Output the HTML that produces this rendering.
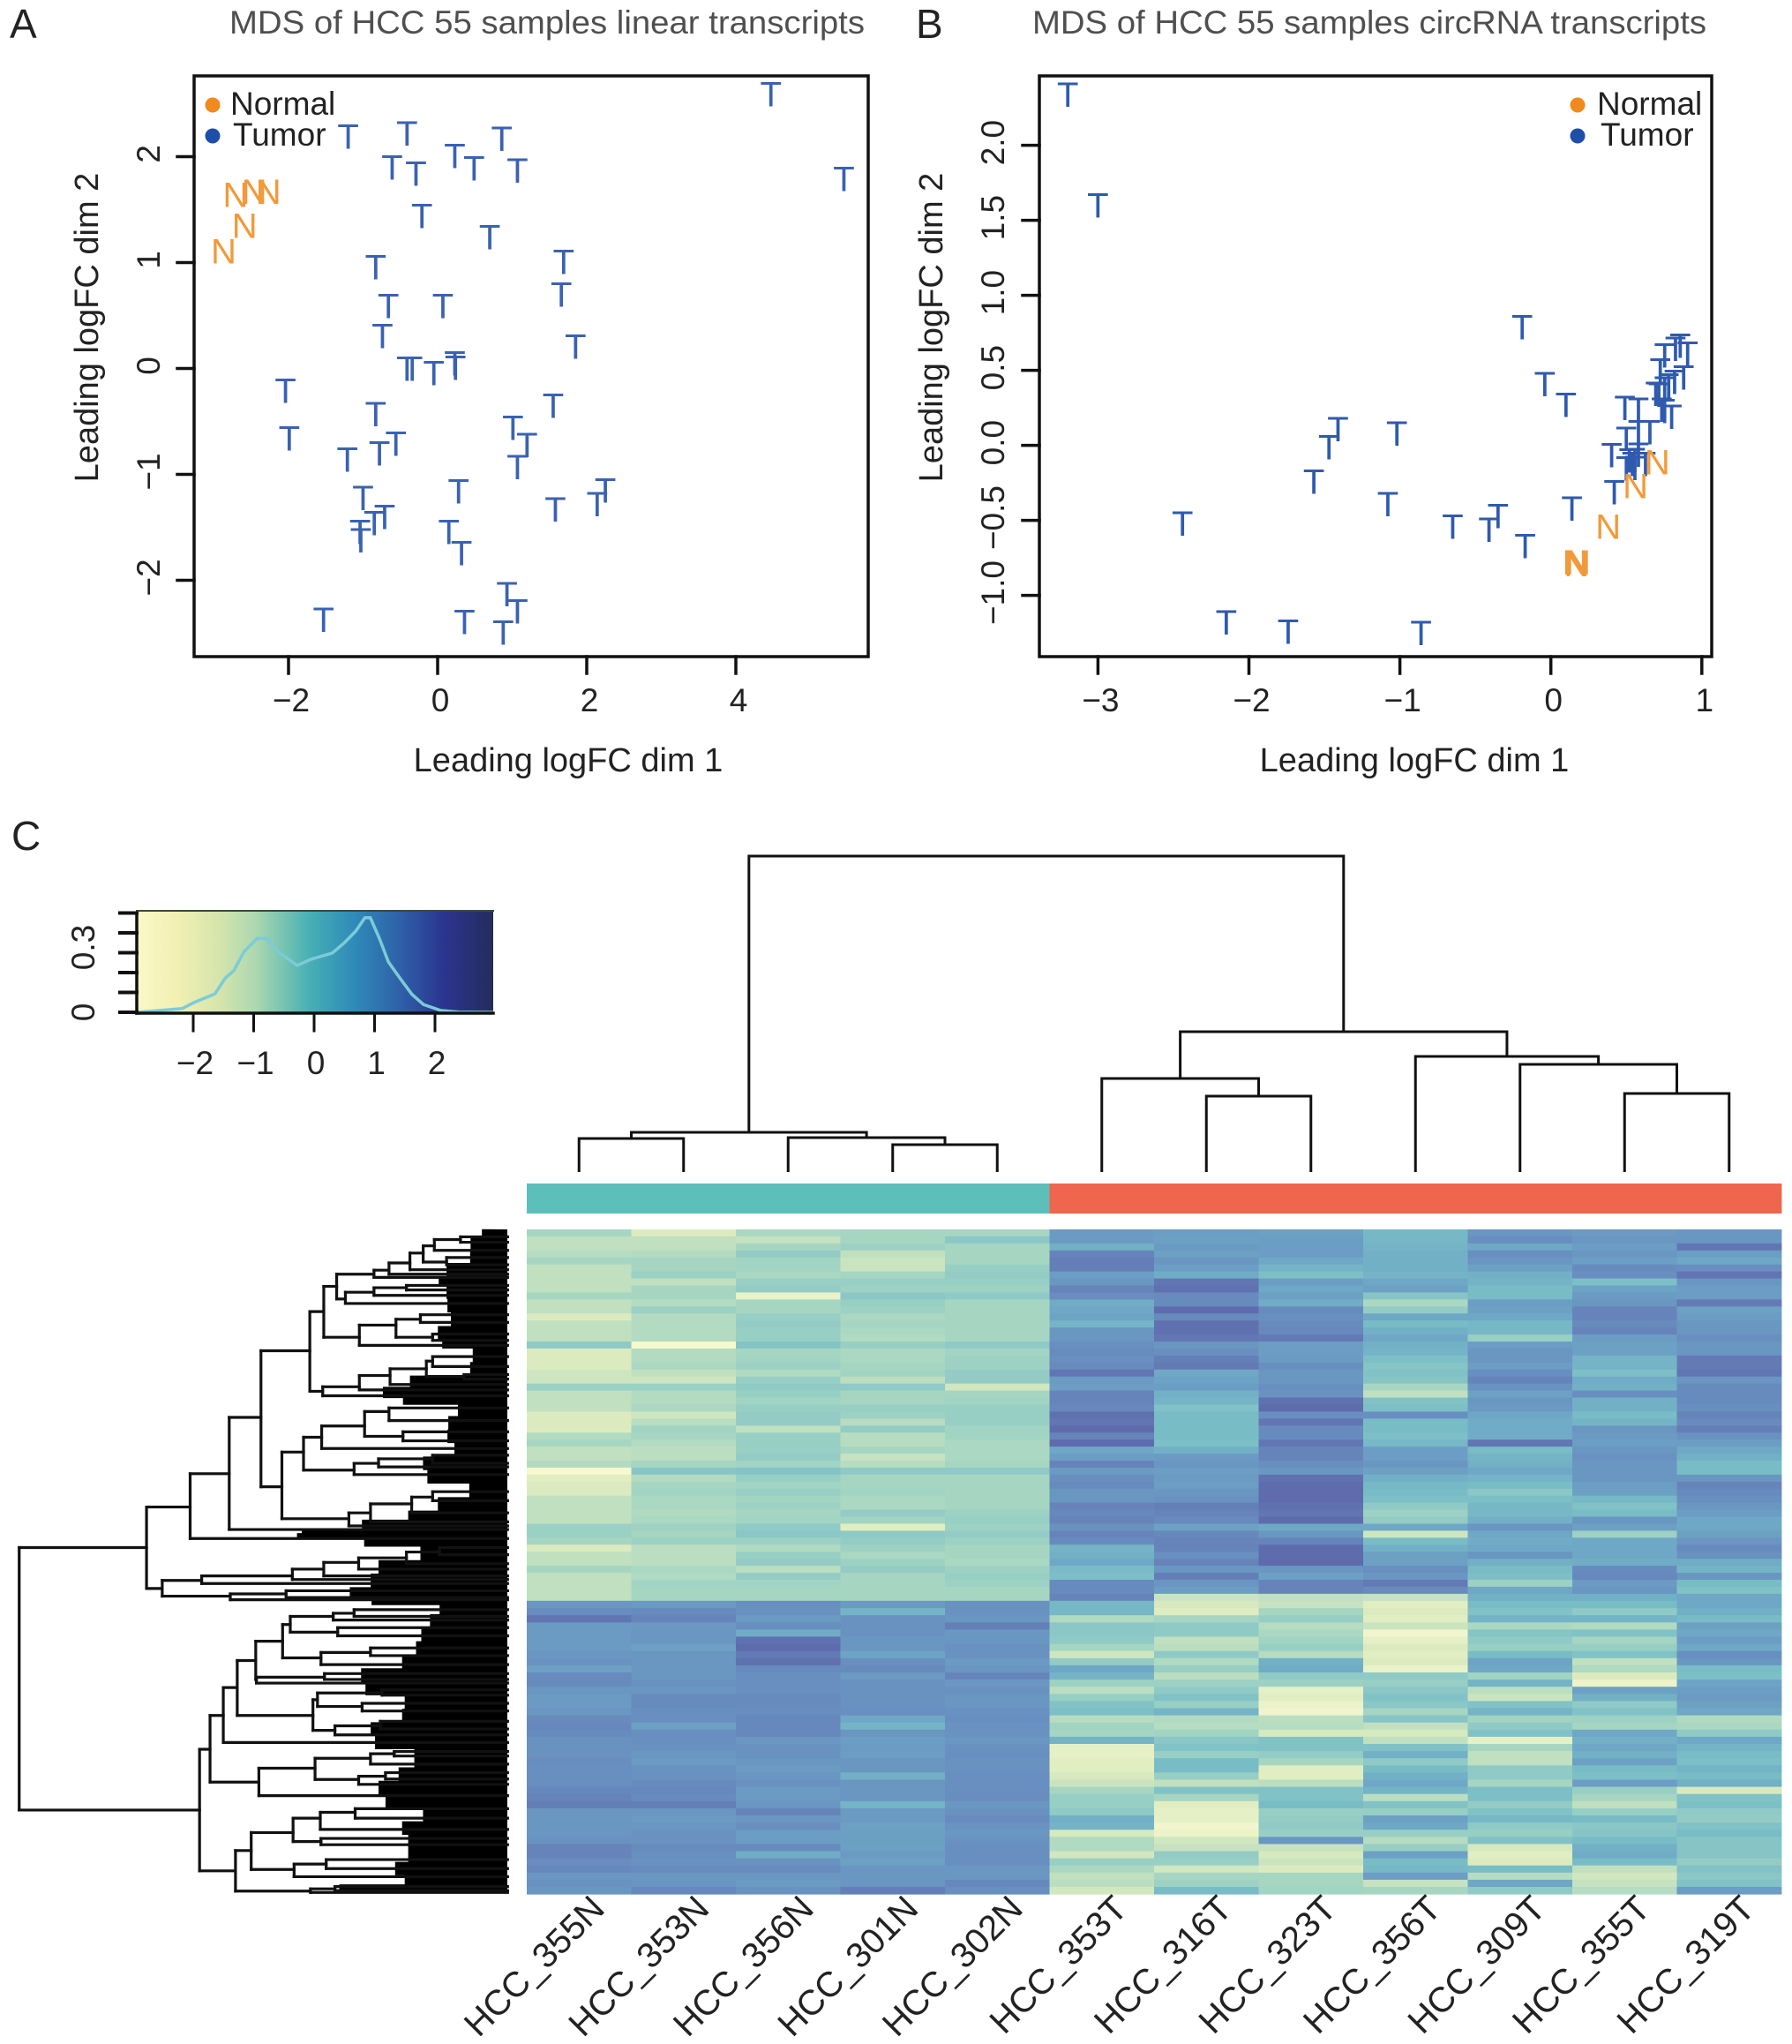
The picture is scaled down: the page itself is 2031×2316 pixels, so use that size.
<!DOCTYPE html>
<html lang="en">
<head>
<meta charset="utf-8">
<title>MDS plots and heatmap of HCC samples</title>
<style>
html,body{margin:0;padding:0;background:#fff;}
svg{display:block;font-family:"Liberation Sans",Arial,sans-serif;}
text{fill:#222;}
</style>
</head>
<body>
<svg id="fig" xmlns="http://www.w3.org/2000/svg" width="2031" height="2316" viewBox="0 0 2031 2316">
<defs>
<linearGradient id="keyGrad" x1="0" x2="1" y1="0" y2="0">
<stop offset="0" stop-color="#fbf8c8"/><stop offset=".12" stop-color="#f1efb2"/><stop offset=".24" stop-color="#d2e4ac"/><stop offset=".33" stop-color="#aed8b0"/><stop offset=".41" stop-color="#78c4b2"/><stop offset=".49" stop-color="#45aeb5"/><stop offset=".61" stop-color="#2f8ab8"/><stop offset=".74" stop-color="#2f60a8"/><stop offset=".86" stop-color="#2a3590"/><stop offset="1" stop-color="#252c5c"/>
</linearGradient>
</defs>
<rect width="2031" height="2316" fill="#fff"/>
<text x="11" y="43" font-size="46">A</text>
<text x="1038" y="43" font-size="46">B</text>
<text x="13" y="963" font-size="46">C</text>
<text x="260" y="38" font-size="37" textLength="720" lengthAdjust="spacingAndGlyphs" style="fill:#4f4f4f">MDS of HCC 55 samples linear transcripts</text>
<text x="1170" y="38" font-size="37" textLength="764" lengthAdjust="spacingAndGlyphs" style="fill:#4f4f4f">MDS of HCC 55 samples circRNA transcripts</text>
<text x="644" y="874" font-size="38" text-anchor="middle">Leading logFC dim 1</text>
<text x="1603" y="874" font-size="38" text-anchor="middle">Leading logFC dim 1</text>
<text transform="translate(111,371) rotate(-90)" font-size="38" text-anchor="middle">Leading logFC dim 2</text>
<text transform="translate(1068,371) rotate(-90)" font-size="38" text-anchor="middle">Leading logFC dim 2</text>
<circle cx="241" cy="119" r="8.5" fill="#f08a1c"/>
<text x="261" y="130" font-size="37">Normal</text>
<circle cx="241" cy="154" r="8.5" fill="#1d4fa8"/>
<text x="264" y="165" font-size="37">Tumor</text>
<circle cx="1788" cy="119" r="8.5" fill="#f08a1c"/>
<text x="1810" y="130" font-size="37">Normal</text>
<circle cx="1788" cy="154" r="8.5" fill="#1d4fa8"/>
<text x="1814" y="165" font-size="37">Tumor</text>
<g id="marks"></g>
</svg>
<script>
/* Panel A values */
const aTumorX=[4.47,5.45,-1.20,-0.41,0.86,0.23,0.49,1.07,-0.61,-0.29,-0.21,0.70,1.69,1.66,-0.83,-0.66,0.07,-0.74,1.85,-0.41,-0.34,-0.05,0.23,0.24,-2.04,-1.99,1.55,-0.83,1.01,1.20,-0.56,-0.78,-1.21,1.07,-1.00,0.28,2.25,2.14,1.58,-0.71,-0.85,-1.04,-1.03,0.15,0.32,0.93,1.07,-1.53,0.36,0.88];
const aTumorY=[2.59,1.79,2.19,2.22,2.17,2.01,1.89,1.87,1.90,1.84,1.44,1.24,1.01,0.70,0.96,0.59,0.59,0.31,0.21,0,0,-0.04,0.05,0.01,-0.21,-0.66,-0.35,-0.43,-0.56,-0.72,-0.71,-0.80,-0.86,-0.93,-1.22,-1.16,-1.15,-1.28,-1.33,-1.40,-1.46,-1.54,-1.62,-1.54,-1.74,-2.13,-2.29,-2.37,-2.39,-2.49];
const aNormalX=[-2.71,-2.46,-2.27,-2.59,-2.87];
const aNormalY=[1.64,1.67,1.67,1.35,1.11];
const aTicksX=[-2,0,2,4];
const aTicksY=[-2,-1,0,1,2];
/* Panel B values */
const bTumorX=[-3.20,-3.00,-0.19,-0.04,0.10,-1.41,-1.02,-1.47,-1.57,-1.08,-2.44,-0.65,-0.35,-0.41,-0.17,0.14,-2.15,-1.74,-0.86,0.42,0.857,0.826,0.906,0.754,0.725,0.88,0.82,0.754,0.78,0.695,0.734,0.715,0.80,0.754,0.49,0.58,0.656,0.58,0.50,0.58,0.403,0.52,0.557,0.54,0.557,0.50,0.627];
const bTumorY=[2.34,1.60,0.79,0.41,0.27,0.11,0.08,-0.01,-0.24,-0.39,-0.52,-0.54,-0.47,-0.56,-0.67,-0.42,-1.18,-1.24,-1.25,-0.31,0.664,0.644,0.611,0.60,0.50,0.455,0.425,0.38,0.40,0.346,0.24,0.34,0.193,0.23,0.25,0.24,0.09,0.09,0.045,-0.06,-0.065,-0.10,-0.095,-0.124,-0.15,-0.153,-0.124];
const bNormalX=[0.705,0.56,0.38,0.16,0.17,0.18];
const bNormalY=[-0.11,-0.27,-0.54,-0.78,-0.79,-0.78];
const bTicksX=[-3,-2,-1,0,1];
const bTicksY=[-1,-0.5,0,0.5,1,1.5,2];
/* Colour key values */
const keyTicksX=[-2,-1,0,1,2];
const keyTicksY=[0,0.1,0.2,0.3,0.4,0.5];
const keyLabelsY=[0,0.3];
const densityX=[-2.93,-2.57,-2.18,-1.99,-1.64,-1.47,-1.33,-1.16,-0.94,-0.79,-0.57,-0.28,-0.04,0.30,0.50,0.69,0.84,0.93,1.08,1.23,1.42,1.62,1.81,2.10,2.39,2.96];
const densityY=[0,.009,.019,.049,.093,.172,.209,.305,.372,.372,.298,.236,.268,.298,.35,.409,.476,.476,.372,.253,.172,.09,.039,.009,.001,0];
/* Heatmap values: 53 upper cluster rows then 41 lower cluster rows; 0 = lightest, 9 = darkest */
const sampleNames=["HCC_355N","HCC_353N","HCC_356N","HCC_301N","HCC_302N","HCC_353T","HCC_316T","HCC_323T","HCC_356T","HCC_309T","HCC_355T","HCC_319T"];
const heat355N=[3,2,2,2.4,3,2,2,2,2,3,2,2,1,2,2,2,4,1,1,1,1.5,1.5,3.5,2,2,2,1,1,1,2.5,3,2,2,2.5,0,0.8,1,1,2,2,2,2,3.5,3.5,3,1,2,2,3,2,2,2,2,7,7.5,8.6,6.8,6.7,6.7,6.7,7,7.2,6.4,7.6,7.6,7,6.8,6.8,7,7.6,7.8,7.6,7.2,7.3,7.2,7.5,7.4,7.4,7.4,7.8,8,8.2,7,7,7,7,7.2,8,8,7.5,7.8,7,7.2,7];
const heat353N=[1,2,2,2.5,3,3,3.5,2,3,3,2.5,3.5,2.5,2.5,2.5,2.5,0,2.5,2.5,2.8,2,1.5,3.5,2.5,2.5,2.8,1.5,2.2,3.2,3,2.5,2.2,2.2,3,4.3,2.5,3,3.2,2.8,2.8,2.6,2.8,3.3,3,3.4,2.2,2.2,2.2,2.8,2.6,3.2,3,3,6.8,7.6,8,6.9,7,7,6.4,7,7,7,7,7.2,7,7.6,7.6,7.4,7.4,6.4,7.4,7.4,7.2,7,6.8,7.2,7.2,7.6,7.8,7.6,8.2,7,6.8,7,7.2,7.2,7.6,7.4,7.2,7.6,7,7,7.8];
const heat356N=[2.8,1.8,3,3.8,3.2,3.2,2.8,3.6,3.8,0.5,3,3,3.6,3.8,3.6,3.6,4.5,3,3.2,3.4,2.6,3.6,4,3.6,3.2,3.6,3.8,3.8,2,3.6,3.6,3.6,3.8,3.2,4.5,3.6,3.2,3.6,3.2,3.4,3,3.2,4,4.2,3.4,2.6,3.6,3.8,2.2,3.8,3.2,3,3,7.4,7.2,6.8,7.4,5.8,8.8,9,8.4,8.8,7.6,7.4,7.4,7.4,7.6,7.6,7.5,7.8,7.8,7.8,7,7.2,7.2,7,6.8,7,7.2,6.8,6.8,7,8,7,7.4,6.6,6.6,7.6,5.8,7.2,7.6,7,6.8,7.2];
const heat301N=[3,3,3.4,2,1.6,1.6,3,3.6,3.4,4.2,3.6,3.4,2.8,3,2.8,2.6,3.6,2.8,2.8,3,3.2,2.2,4,3,3,3.6,3.4,2.4,3.8,2.4,2.4,3,1.8,2.4,4,3,3,3.2,2.8,2.8,3.8,3.2,0.8,4,3.8,3.4,2.8,3.4,3.8,3,3,3,3,6.8,5.4,7.2,7.2,7.2,7,7,6.2,7.4,7.6,6.8,7.2,7.2,7.2,7.2,7.4,6,5.4,7,6.6,6.8,6.6,7,7,5.6,7,7,7,5.4,6.8,6.8,6.4,6.5,6.5,6.4,6.8,6.4,7,7,7,8.2];
const heat302N=[3,4.2,3,3,3,3.6,3.8,3.6,3.4,4,3,3,3,3,3,3,4,3.2,3.4,3.4,3.8,3.8,1.4,3,3.2,3.6,3.6,3.6,3.2,3.2,2.8,2.8,2.8,3,4,3,3,3,3,3,3.4,3.6,3.4,3.8,3.4,3,3,2.8,3.4,3.6,3.4,3,3,7.2,7.2,7,8.2,7,7,7.2,7.2,6.8,7,8,6.9,7.2,7,7,7.2,7.4,7.2,7.2,7,7.2,7.4,7.2,7.2,7.4,7.4,7.4,7.5,7,7.2,7.6,7.2,7,7.2,7.4,7.4,7.4,7,7,7.8,7.4];
const heat353T=[6.8,6.8,5.6,8,8.2,8.2,6.6,7,8,7.5,5.8,6,6.2,5.4,7,7,7.4,7.6,7.4,7.6,8.6,6.8,6.6,8,8,7.8,8.8,8.6,9,8,9,6,6.6,8,6.8,7.4,7.6,7,7,8,7.8,8,7.2,8,7.6,5.4,5.6,6,5,4.8,7.6,7.6,8,5.2,5.2,2.6,4.2,4.2,4,3,1.5,3.8,6,5.4,3.4,2.2,3.6,4.6,4.8,2.4,3.2,3,5.4,0.6,0.6,0.8,0.8,1.2,1.6,3,3.6,3.6,4,5.6,5.4,1.2,2.6,2.6,1.4,3.6,2.8,2,2.2,1.4];
const heat316T=[6.6,6.4,6.8,6.4,7,6.6,5.8,8.6,8.8,7.6,7.6,9.2,7.6,8.8,8.8,8.6,7,7.4,8.2,8.4,6,6.2,6.6,5.6,5.4,4.6,5,5,5,5,4.8,5.6,6.8,7,6.6,6.8,6.6,7,7.2,8.2,8,7.6,6.4,7.8,8,8,7.4,8,7,8.2,7,6.6,1.6,1.2,0.9,3,4,4,2,2.2,4,2.6,3.6,2.2,3.4,4,4.6,3.6,5.4,2.6,2.4,3.2,4.2,4.6,3.6,5,5,3.6,2,4.6,3,0.8,0.6,0.6,0.2,0.4,1.4,1.8,3.8,3.6,1.4,3,3.4,5];
const heat323T=[6.4,6.6,6.6,6.6,6,5.4,4.8,6.6,6,6.4,5.8,7.6,7.4,7.6,7.8,8.4,6.6,6.6,6.8,7.4,7,7,7.4,7.2,8.8,9,7.4,8.6,7.6,7.6,8.6,8,8,7.4,7,8.8,9.2,9.2,9.4,8.8,8.6,9,6,7,8,9.2,9.2,9.2,7,6.4,8,8,2,1.8,3,3.6,2.4,2.8,3.2,3.6,2.4,5.6,5.8,4,3.4,0.6,0.8,0.4,0.2,2.2,2.4,1.2,4.6,4.6,3.8,3,0.8,0.8,2.2,4.6,4.6,5,3.6,3.8,4,3.6,7,1.8,1.2,1.6,1,3,3,3.2];
const heat356T=[5.2,5.2,5.4,5.6,5.6,5.6,5.4,6,6.4,4.4,2.8,3.8,6,5,5.6,6,5.6,5.4,4.8,4.4,4.6,4.4,3,2,4.6,4.8,7.4,5,5,4.8,5.2,6.6,6.6,7,6.4,5.6,5.2,5,4.8,4,3.4,3.8,6,1.5,5,5.6,6.4,6.4,7.4,7,8.4,7.6,1.8,.8,1,.8,1.6,.2,.6,1,.8,1,.5,4,3.6,4.2,4.6,4.2,3,4.4,2,1.2,2,4.6,5.6,4,5,5.6,6,5.4,2.2,4.6,3.6,6.4,6,3.6,2.4,3.6,6.4,5,5.2,6.6,1.8,3];
const heat309T=[7,7.4,6,7.4,7,6.4,5.6,5.4,5,5,6.6,6.4,6,5.2,5.2,3.6,6.6,7,7,6.6,7.4,8,7.2,6.4,7,6.8,6,5.8,5.8,5.8,8.6,5,5.4,5.6,6,5.4,5,4.2,4.8,5.2,5.2,5.6,7,6,5.8,6,7,5.6,5,4.8,3.4,6,5.6,5,4.6,5.4,2.8,4.4,4,3.6,5,6.2,6,3.2,5.4,2.2,1.6,4.6,5.4,3.2,4,4.6,.6,3,2,2,4,4,3,4.8,4.8,3.8,4.6,5.2,4,3.6,4.6,1.2,.8,1,5,2.4,6,4];
const heat355T=[6.8,7,6.6,7,6.6,7.6,7.4,4.8,6.2,6.8,7,8,8,7.6,8,6.6,6.4,6.4,5.4,5.4,4.8,5.8,5.6,7.4,5.6,5.6,5,5.4,7,6.8,6.6,7,7.2,7,7,7,6.6,6.4,5.2,4.6,5,7,6.4,3.4,6,6,6,5.8,7.6,7.8,6.8,7,5.6,5,4,5.4,2.6,4.6,3,3.6,4.6,2,2.6,1,.4,6.4,5.6,4,4.6,3.4,3,6,5.6,6,5.6,6.4,5,4.8,6.6,3.6,3,2,3.6,5,4.2,4.4,5,5.6,5.8,5,2,1.4,1.8,2.4];
const heat319T=[7,7,8.6,6.6,6,7.4,8.6,7,6.6,6.6,8.4,6.4,6.6,7,7,7.4,7,7,8.4,8.4,8.6,7,7.6,7.6,7.6,7.4,8,7.6,8.2,7.2,6.6,6,5.6,5,5,7,8,7.6,7.4,7,6.6,6,6,6.4,7,7.6,7.2,5.8,5.4,7,5,4.6,6,6,5.6,5,6.4,6,6.6,6,7.4,7,5,4.8,6.2,6.6,6.8,6.4,6,2.6,2.8,4,6,5.4,5,4.8,5.4,5,5.6,1.2,4.6,4.8,4,3.8,4.6,5,4.4,4.4,4.4,3.8,4.6,4.2,4.6,6.6];
const heatColumns=[heat355N,heat353N,heat356N,heat301N,heat302N,heat353T,heat316T,heat323T,heat356T,heat309T,heat355T,heat319T];
const sampleGroups=["N","N","N","N","N","T","T","T","T","T","T","T"];
/* Sample dendrogram merges: [left, right, height]; leaves are sample indexes, negative numbers refer to earlier merges */
const colMerges=[[0,1,38],[3,4,31],[2,-2,39],[-1,-3,45],[6,7,86],[5,-5,106],[10,11,89],[9,-7,122],[8,-8,131],[-6,-9,159],[-4,-10,358]];
/* Gene dendrogram: [merge distance, rank, upper child, lower child]; a plain number is a leaf rank */
const rowTree=[55,1017,
 [420,732,
  [545,642,
   [657,568,
    [748,443,
     [888,295,
      [928,208,
       [965,152,
        [1072,125,[1115,116,[1175,100,[1213,78,[1245,62,[1320,48,42,54],72],[1280,98,88,104]],115],125],132],
        [990,180,[1072,165,[1165,155,150,160],172],190]],
       [1030,265,[1135,238,[1205,225,215,232],[1240,265,258,272]],283]],
      [925,385,[1030,375,[1118,350,[1222,335,[1240,318,308,330],[1330,352,348,358]],370],382],395]],
     [808,597,
      [870,520,
       [922,487,[1045,462,[1115,430,422,450],[1155,485,475,495]],512],
       [1015,560,[1085,545,[1240,535,527,545],553],570]],
      [1000,668,[1062,655,[1180,635,[1240,620,608,628],655],675],684]]],
    692],
   712],
  [465,823,
   [578,805,[838,795,[928,780,[1028,765,[1165,755,[1260,742,732,748],768],780],795],803],812],
   [660,840,[820,835,828,843],848]]],
 [572,1315,
  [602,1180,
   [640,1105,
    [680,1043,
     [733,983,
      [810,940,
       [832,903,[955,885,[1015,878,870,885],893],[968,920,910,928]],
       [920,977,[1062,965,955,972],992]],
      [735,1025,[930,1020,1012,1025],1033]],
     [897,1105,
      [910,1070,[1095,1055,1048,1060],[1038,1085,1078,1095]],
      [960,1138,[1090,1128,1118,1135],1148]]],
    1165],
   [742,1253,
    [903,1222,[1062,1200,[1130,1190,1185,1195],1213],[1028,1247,[1105,1240,1232,1246],1258]],
    1283]],
  [675,1450,
   [720,1405,
    [840,1365,[918,1333,[1018,1320,1312,1333],1358],[920,1385,1378,1392]],
    [843,1447,[935,1435,1425,1445],1463]],
   [890,1495,[960,1490,1485,1494],1498]]]];
const rowEdgeRank=[25,40,70,100,130,150,180,210,240,270,290,320,350,375,400,415,440,470,500,530,560,590,620,650,670,690,700,712,730,760,790,820,845,860,880,910,940,970,1000,1030,1060,1090,1120,1150,1180,1220,1250,1280,1310,1340,1370,1400,1430,1460,1480,1495];
const rowEdgeDist=[1400,1375,1340,1370,1250,1280,1280,1290,1300,1240,1350,1370,1340,1120,1090,1350,1300,1280,1290,1340,1170,1390,1330,1230,1150,1000,820,945,1340,1160,1060,1070,980,1320,1240,1230,1200,1190,1140,1000,1190,1150,1160,1030,1210,1180,1130,1070,1210,1220,1130,1290,1130,1140,1220,890];

const NS="http://www.w3.org/2000/svg";
const host=document.getElementById("marks");
function mk(tag,attrs){const el=document.createElementNS(NS,tag);for(const k in attrs)el.setAttribute(k,attrs[k]);host.appendChild(el);return el;}
function line(x1,y1,x2,y2,w,c){return mk("line",{x1:x1,y1:y1,x2:x2,y2:y2,"stroke-width":w,stroke:c||"#111","stroke-linecap":"square"});}
function fmt(v){return String(v).replace("-","\u2212");}
const num1=v=>fmt(v.toFixed(1));

/* axis functions */
const xA=v=>496+84.5*v, yA=v=>417.5-120*v;
const xB=v=>1757.7+171.1*v, yB=v=>504.6-170*v;
const xK=v=>356+68.5*v, yK=v=>1147-225*v;

function panel(prefix,left,right,xS,yS,ticksX,ticksY,labelY,xFmt,yFmt){
  const box=mk("rect",{x:left,y:86,width:right-left,height:658,fill:"none",stroke:"#111","stroke-width":3.5});
  
  
  ticksX.forEach(v=>{
    const t=line(xS(v),744,xS(v),763,3.5);
    
    
    const l=mk("text",{x:xS(v)+3,y:806,"font-size":37,"text-anchor":"middle"});
    l.textContent=xFmt(v);
    
    
  });
  ticksY.forEach(v=>{
    const t=line(left-19,yS(v),left,yS(v),3.5);
    
    
    const l=mk("text",{transform:"translate("+labelY+","+(yS(v)-3)+") rotate(-90)","font-size":37,"text-anchor":"middle"});
    l.textContent=yFmt(v);
    
    
  });
}
panel("panel-a",220,984,xA,yA,aTicksX,aTicksY,181,fmt,fmt);
panel("panel-b",1178,1940,xB,yB,bTicksX,bTicksY,1138,fmt,num1);

function points(prefix,xs,ys,xS,yS,ch,col){
  xs.forEach((v,i)=>{
    const p=mk("text",{x:xS(v),y:yS(ys[i])+14,"font-size":40,"text-anchor":"middle",style:"fill:"+col});
    p.textContent=ch;
    
    
  });
}
points("panel-a-tumor",aTumorX,aTumorY,xA,yA,"T","#3a62b2");
points("panel-a-normal",aNormalX,aNormalY,xA,yA,"N","#f29a3a");
points("panel-b-tumor",bTumorX,bTumorY,xB,yB,"T","#2f5aae");
points("panel-b-normal",bNormalX,bNormalY,xB,yB,"N","#f29a3a");

/* colour key */
const keyRect=mk("rect",{x:155,y:1032,width:404,height:116,fill:"url(#keyGrad)"});


const keyTop=line(155,1032,559,1032,2,"#3a4a3a");


const density=mk("polyline",{points:densityX.map((v,i)=>xK(v)+","+yK(densityY[i])).join(" "),fill:"none",stroke:"#7ccbd8","stroke-width":3.5});


const keyAxisY=line(155,yK(0.5),155,1148,3.5);


const keyAxisX=line(155,1148,559,1148,3.5);


keyTicksY.forEach(v=>{
  const t=line(136,yK(v),155,yK(v),4);
  
  
});
keyLabelsY.forEach(v=>{
  const l=mk("text",{transform:"translate(107,"+(yK(v)-(v?6:0))+") rotate(-90)","font-size":37,"text-anchor":"middle"});
  l.textContent=String(v);
  
  
});
keyTicksX.forEach(v=>{
  const t=line(xK(v),1148,xK(v),1168,3);
  
  
  const l=mk("text",{x:xK(v)+2,y:1217,"font-size":37,"text-anchor":"middle"});
  l.textContent=fmt(v);
  
  
});

/* heatmap */
const heatLeft=597,colW=118.5,topRows=53;
const colCenter=i=>heatLeft+colW*(i+.5);
const rowY=r=>r<=topRows?1393+r*7.94:1814+(r-topRows)*8.1;
const palette=[[246,248,208],[220,235,191],[192,224,192],[166,214,194],[143,202,198],[120,188,198],[110,168,198],[106,150,194],[102,132,186],[94,108,174]];
function heatColor(v){
  const c=Math.max(0,Math.min(9,v)),i=Math.min(8,Math.floor(c)),f=c-i;
  return "rgb("+palette[i].map((p,k)=>Math.round(p+(palette[i+1][k]-p)*f)).join(",")+")";
}
heatColumns.forEach((col,c)=>{
  col.forEach((v,r)=>{
    const y0=rowY(r),y1=rowY(r+1);
    const cell=mk("rect",{x:heatLeft+c*colW,y:y0,width:colW+.4,height:y1-y0+.5,fill:heatColor(v)});
    
    
  });
  const ann=mk("rect",{x:heatLeft+c*colW,y:1341,width:colW+.4,height:34,fill:sampleGroups[c]==="N"?"#5dbfb9":"#f0654d"});
  
  
  const lab=mk("text",{transform:"translate("+(colCenter(c)+31)+",2165) rotate(-45)","font-size":40,"text-anchor":"end"});
  lab.textContent=sampleNames[c];
  
  
});

/* sample dendrogram */
const colY=h=>1328-h;
const merged=[];
function nodeOf(id){return id>=0?{x:colCenter(id),h:0}:merged[-id-1];}
colMerges.forEach(m=>{
  const a=nodeOf(m[0]),b=nodeOf(m[1]),h=m[2];
  const seg=mk("polyline",{points:[a.x,colY(a.h),a.x,colY(h),b.x,colY(h),b.x,colY(b.h)].join(" "),fill:"none",stroke:"#111","stroke-width":3});
  
  
  merged.push({x:(a.x+b.x)/2,h:h});
});

/* gene dendrogram */
const rowDistX=d=>d/2.529;
const rowRankY=r=>1380+r/1.96;
const rowLeafEnd=1455;
const massPts=["575,1393"];
rowEdgeRank.forEach((r,i)=>{
  if(i===rowEdgeRank.length-1)return;
  const a=rowEdgeDist[i],b=rowEdgeDist[i+1];
  const d=0.5*(a+b)/2+0.5*Math.min(a,b);
  massPts.push(rowDistX(d)+","+rowRankY(r));
  massPts.push(rowDistX(d)+","+rowRankY(rowEdgeRank[i+1]));
});
massPts.push("575,2145");
const mass=mk("polygon",{points:massPts.join(" "),fill:"#000"});


function drawRow(n){
  const d=n[0],kids=[n[2],n[3]];
  const rk=kids.map(k=>Array.isArray(k)?k[1]:k);
  const v=line(rowDistX(d),rowRankY(rk[0]),rowDistX(d),rowRankY(rk[1]),3.2);
  
  
  kids.forEach((k,i)=>{
    const end=Array.isArray(k)?k[0]:rowLeafEnd;
    const h=line(rowDistX(d),rowRankY(rk[i]),rowDistX(end),rowRankY(rk[i]),3.2);
    
    
    if(Array.isArray(k))drawRow(k);
  });
}
drawRow(rowTree);
</script>
</body>
</html>
